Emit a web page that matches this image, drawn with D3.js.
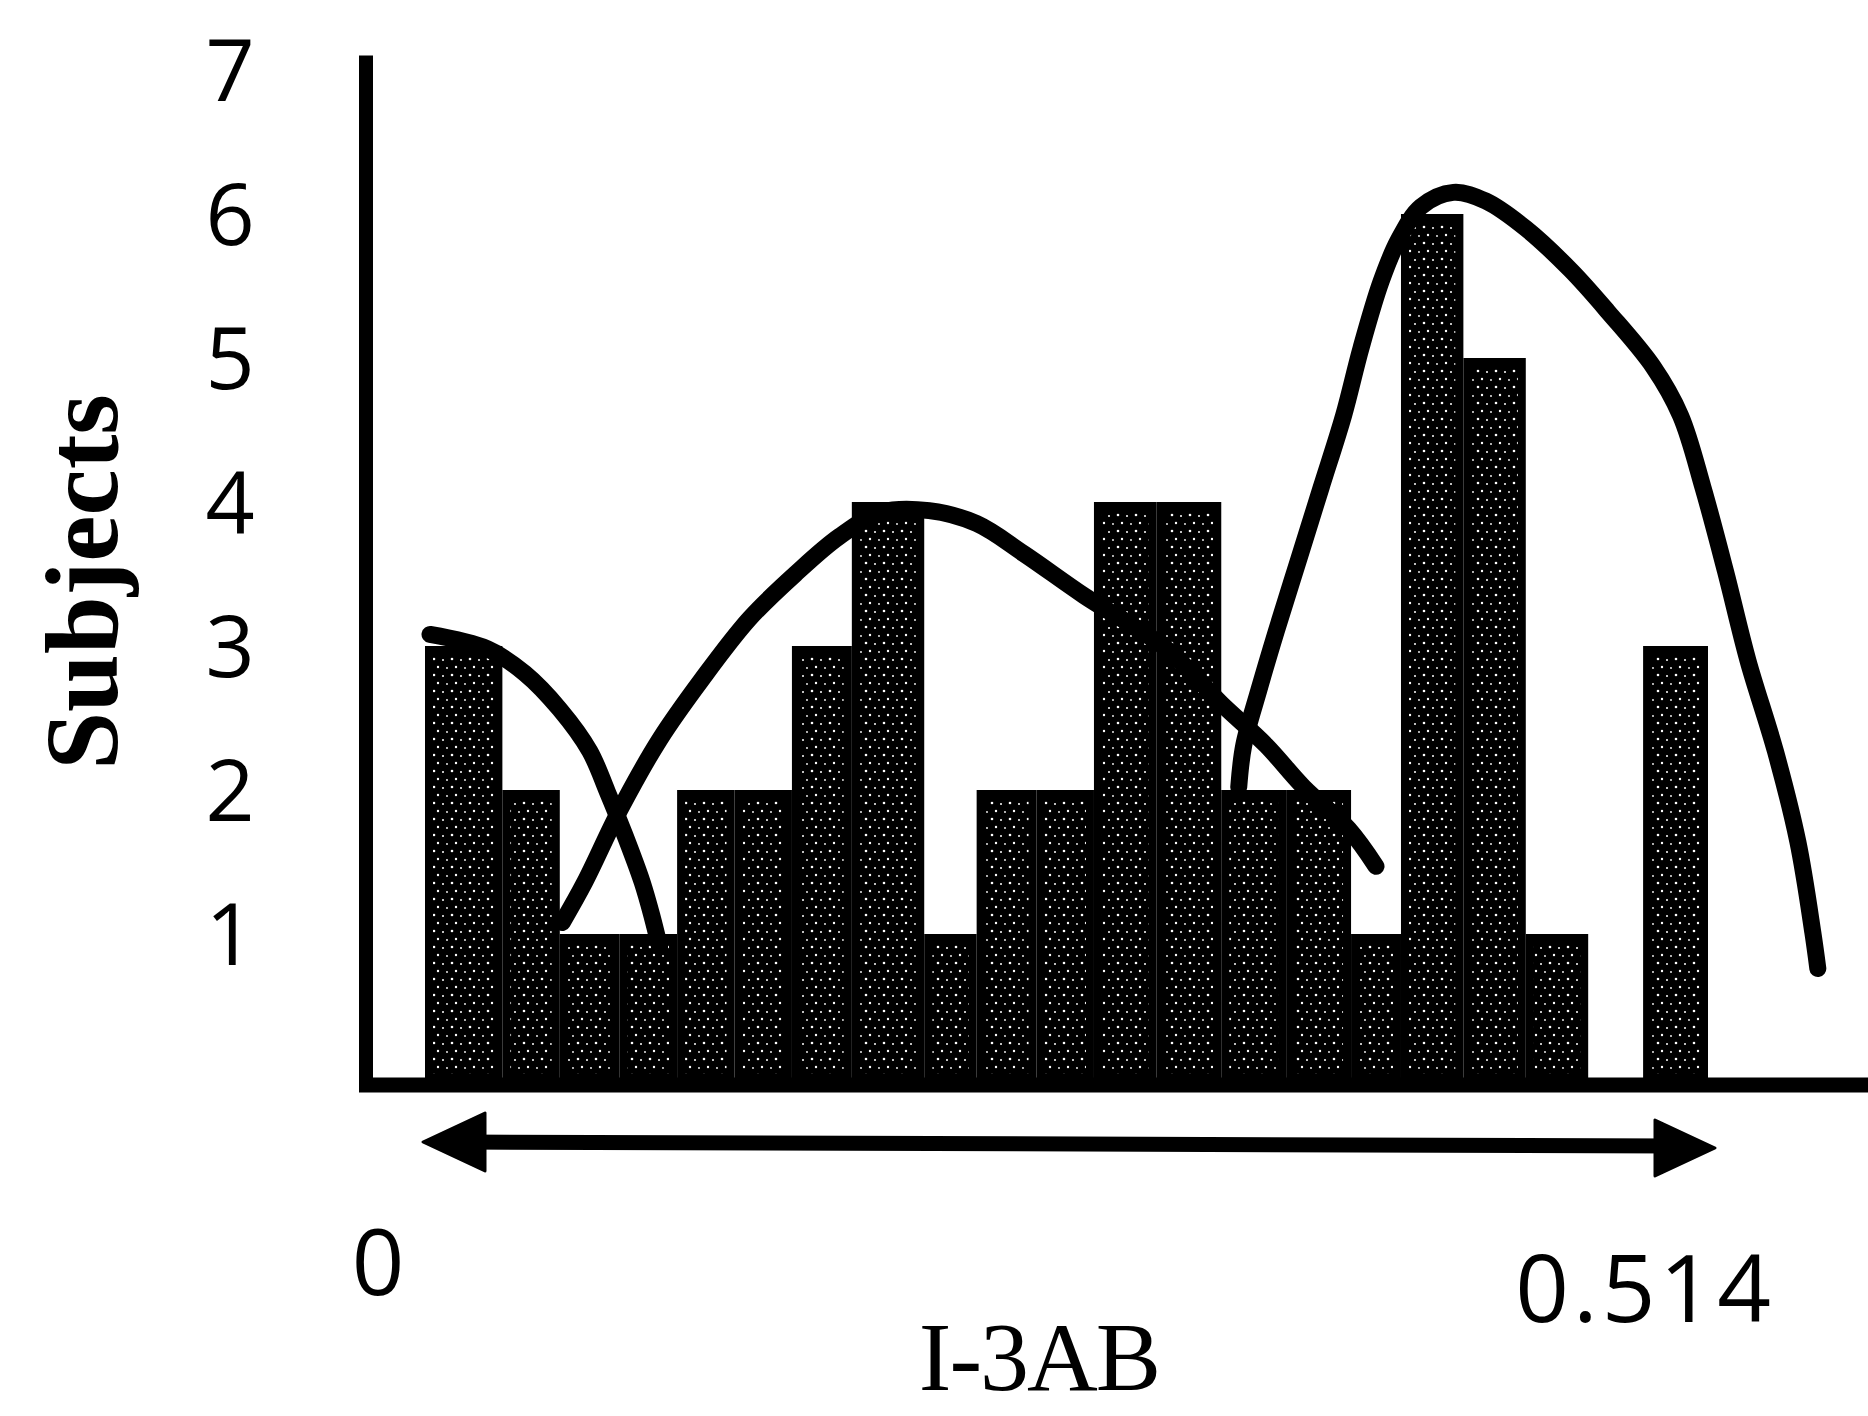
<!DOCTYPE html>
<html>
<head>
<meta charset="utf-8">
<script src="https://cdn.jsdelivr.net/npm/d3@7"></script>
<style>
  body { margin: 0; background: #fff; }
</style>
</head>
<body>
<div id="chart"></div>
<script>
// histogram bins (I-3AB) and subject counts
const binEdges = [0, 0.031, 0.054, 0.078, 0.101, 0.124, 0.147, 0.171, 0.200, 0.221, 0.245,
  0.268, 0.293, 0.319, 0.345, 0.371, 0.391, 0.416, 0.441, 0.466, 0.488, 0.514];
const counts = [3, 2, 1, 1, 2, 2, 3, 4, 1, 2, 2, 4, 4, 2, 2, 1, 6, 5, 1, 0, 3];
const yTicks = [1, 2, 3, 4, 5, 6, 7];
const xEndLabels = ["0", "0.514"];

// hand drawn fitted curves, [I-3AB, subjects]
const curveLow = [[0.002, 3.08], [0.025, 2.98], [0.040, 2.81], [0.054, 2.56], [0.066, 2.27],
  [0.073, 1.99], [0.080, 1.69], [0.087, 1.36], [0.091, 1.12], [0.094, 0.91]];
const curveMid = [[0.055, 1.08], [0.064, 1.36], [0.078, 1.86], [0.094, 2.35], [0.111, 2.77],
  [0.130, 3.19], [0.149, 3.51], [0.166, 3.76], [0.183, 3.93], [0.202, 3.94], [0.221, 3.85],
  [0.240, 3.64], [0.264, 3.35], [0.297, 2.98], [0.319, 2.60], [0.337, 2.31], [0.352, 2.02],
  [0.370, 1.73], [0.381, 1.47]];
const curveHigh = [[0.326, 2.02], [0.328, 2.31], [0.334, 2.69], [0.341, 3.10], [0.350, 3.60],
  [0.359, 4.10], [0.368, 4.60], [0.375, 5.07], [0.383, 5.53], [0.390, 5.82], [0.399, 6.05],
  [0.412, 6.15], [0.425, 6.09], [0.441, 5.90], [0.459, 5.61], [0.474, 5.32], [0.492, 4.94],
  [0.503, 4.60], [0.512, 4.10], [0.521, 3.52], [0.530, 2.90], [0.541, 2.27], [0.550, 1.64],
  [0.556, 1.01], [0.558, 0.76]];

const width = 1868;
const height = 1416;

const svg = d3.select("#chart")
  .append("svg")
  .attr("width", width)
  .attr("height", height);

const x = d3.scaleLinear().domain([0, 0.514]).range([425, 1708]);
const y = d3.scaleLinear().domain([0, 7]).range([1078, 70]);

// stipple fill used inside the bars
const pattern = svg.append("defs")
  .append("pattern")
  .attr("id", "stipple")
  .attr("patternUnits", "userSpaceOnUse")
  .attr("width", 18)
  .attr("height", 16);
pattern.append("rect").attr("width", 18).attr("height", 16).attr("fill", "#000");
[[2, 3, 1.3], [11, 4, 1.0], [6, 11, 1.2], [15, 12, 0.9]].forEach(([cx, cy, r]) => {
  pattern.append("circle").attr("cx", cx).attr("cy", cy).attr("r", r).attr("fill", "#fff");
});

const bins = counts
  .map((count, i) => ({ x0: binEdges[i], x1: binEdges[i + 1], count }))
  .filter((d) => d.count > 0);

const bars = svg.append("g").selectAll("g").data(bins).enter().append("g");
bars.append("rect")
  .attr("x", (d) => x(d.x0))
  .attr("y", (d) => y(d.count))
  .attr("width", (d) => x(d.x1) - x(d.x0))
  .attr("height", (d) => y(0) - y(d.count))
  .attr("fill", "#000");
bars.append("rect")
  .attr("x", (d) => x(d.x0) + 8)
  .attr("y", (d) => y(d.count) + 10)
  .attr("width", (d) => x(d.x1) - x(d.x0) - 16)
  .attr("height", (d) => y(0) - y(d.count) - 14)
  .attr("fill", "url(#stipple)");

// curves
const line = d3.line()
  .x((d) => x(d[0]))
  .y((d) => y(d[1]))
  .curve(d3.curveCatmullRom);
svg.append("g").selectAll("path")
  .data([curveLow, curveMid, curveHigh])
  .enter()
  .append("path")
  .attr("d", line)
  .attr("fill", "none")
  .attr("stroke", "#000")
  .attr("stroke-width", 17)
  .attr("stroke-linecap", "round")
  .attr("stroke-linejoin", "round");

// axes lines
svg.append("line")
  .attr("x1", 366).attr("x2", 366)
  .attr("y1", y(7.1)).attr("y2", y(0) + 14)
  .attr("stroke", "#000").attr("stroke-width", 14);
svg.append("line")
  .attr("x1", 359).attr("x2", width)
  .attr("y1", y(0) + 7).attr("y2", y(0) + 7)
  .attr("stroke", "#000").attr("stroke-width", 15);

const yAxis = svg.append("g")
  .attr("transform", "translate(366, 0)")
  .call(d3.axisLeft(y).tickValues(yTicks).tickSize(0).tickFormat(d3.format("d")));
yAxis.select(".domain").remove();
yAxis.selectAll("text")
  .attr("x", -136)
  .attr("dy", "0.36em")
  .attr("text-anchor", "middle")
  .attr("fill", "#000")
  .style("font-family", "'Open Sans', sans-serif")
  .style("font-size", "86px");

// double headed range arrow
const arrowY = 1142;
const x0 = x(0) - 2;
const x1 = x(0.514) + 7;
svg.append("line")
  .attr("x1", x0 + 40).attr("x2", x1 - 40)
  .attr("y1", arrowY).attr("y2", arrowY + 4)
  .attr("stroke", "#000").attr("stroke-width", 15);
svg.append("path")
  .attr("d", `M${x0},${arrowY} L${x0 + 62},${arrowY - 29} L${x0 + 62},${arrowY + 29} Z`)
  .attr("fill", "#000").attr("stroke", "#000").attr("stroke-width", 3).attr("stroke-linejoin", "round");
svg.append("path")
  .attr("d", `M${x1},${arrowY + 6} L${x1 - 60},${arrowY - 22} L${x1 - 60},${arrowY + 34} Z`)
  .attr("fill", "#000").attr("stroke", "#000").attr("stroke-width", 3).attr("stroke-linejoin", "round");

// end labels
svg.append("text")
  .attr("x", x(0) - 47)
  .attr("y", 1295)
  .attr("text-anchor", "middle")
  .style("font-family", "'Open Sans', sans-serif")
  .style("font-size", "92px")
  .text(xEndLabels[0]);
svg.append("text")
  .attr("x", x(0.514) + 67)
  .attr("y", 1322)
  .attr("text-anchor", "end")
  .style("font-family", "'Open Sans', sans-serif")
  .style("font-size", "94px")
  .style("letter-spacing", "4px")
  .text(xEndLabels[1]);

// axis titles
svg.append("text")
  .attr("x", 1039)
  .attr("y", 1390)
  .attr("text-anchor", "middle")
  .style("font-family", "'Liberation Serif', 'Times New Roman', serif")
  .style("font-size", "98px")
  .style("letter-spacing", "-2px")
  .text("I-3AB");
svg.append("text")
  .attr("transform", "translate(117, 582) rotate(-90)")
  .attr("text-anchor", "middle")
  .style("font-family", "'Liberation Serif', 'Times New Roman', serif")
  .style("font-weight", "bold")
  .style("font-size", "104px")
  .text("Subjects");
</script>
</body>
</html>
